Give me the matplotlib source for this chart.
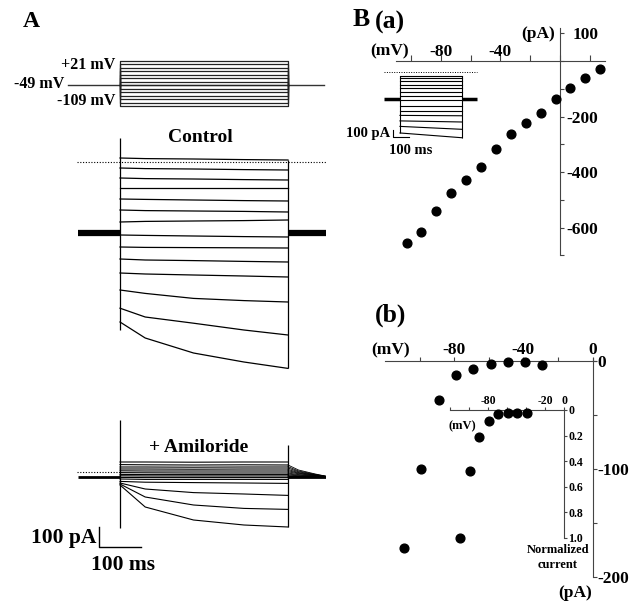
import matplotlib
matplotlib.use('Agg')
import matplotlib.pyplot as plt

plt.rcParams['font.family'] = ['Liberation Serif', 'DejaVu Serif']
plt.rcParams['font.weight'] = 'bold'

W, H = 632, 604

# ---------------- data ----------------
# A: voltage protocol (mV), pulse from 0 to 400 ms
hold_mv = -49
step_mv = [-109, -99, -89, -79, -69, -59, -49, -39, -29, -19, -9, 1, 11, 21]

# A: current traces (pA, relative to holding current) read at these times (ms)
trace_t = [0, 60, 175, 295, 400]
ctrl_traces = [
    [375, 372, 370, 367, 365],
    [325, 322, 320, 317, 315],
    [275, 272, 270, 267, 265],
    [225, 225, 225, 225, 225],
    [170, 168, 165, 162, 160],
    [115, 112, 110, 108, 105],
    [55, 58, 60, 62, 65],
    [-10, -12, -15, -18, -20],
    [-70, -72, -73, -74, -75],
    [-130, -135, -138, -142, -145],
    [-200, -205, -210, -215, -220],
    [-285, -302, -327, -338, -345],
    [-376, -420, -451, -485, -510],
    [-445, -525, -600, -645, -677],
]
amil_traces = [
    [75, 75, 74, 75, 75],
    [62, 61, 60, 61, 60],
    [50, 50, 49, 50, 50],
    [40, 40, 39, 40, 40],
    [31, 30, 30, 30, 30],
    [22, 21, 20, 20, 20],
    [13, 12, 12, 12, 12],
    [6, 5, 5, 5, 5],
    [-2, -3, -3, -3, -3],
    [-10, -12, -12, -12, -12],
    [-22, -26, -28, -30, -32],
    [-30, -60, -78, -85, -92],
    [-35, -100, -140, -157, -162],
    [-40, -150, -215, -240, -250],
]
tail_t = [400, 425, 465, 500]
amil_tail_start = [60, 52, 45, 38, 32, 26, 20, 15, 10, 6, 3, 0, -2, -4]
amil_tail_mid = [35, 30, 26, 22, 19, 16, 12, 9, 6, 4, 2, 0, -1, -2]
amil_tail_late = [15, 13, 11, 10, 9, 7, 6, 5, 3, 2, 1, 0, 0, -1]
ctrl_spike = [475, -485]
amil_spike = [285, -255]
ctrl_zero = 355
amil_zero = 25

# B(a): I-V relation
ba_mv = [-103, -93, -83, -73, -63, -53, -43, -33, -23, -13, -3, 7, 17, 27]
ba_pa = [-655, -615, -540, -475, -427, -381, -317, -263, -225, -189, -136, -98, -61, -30]
# B(a) inset traces (pA) at pulse start / end
ins_start = [320, 285, 245, 200, 155, 100, 45, -15, -85, -155, -220, -295, -370, -460]
ins_end = [320, 285, 245, 200, 155, 100, 45, -15, -85, -155, -225, -310, -410, -525]
ins_zero = 368

# B(b): amiloride-sensitive current
bb_mv = [-109, -99, -89, -79, -69, -59, -49, -39, -29]
bb_pa = [-173, -100, -36, -12.5, -7.8, -2.8, -0.7, -0.9, -3.7]
# B(b) inset: normalized current
bn_mv = [-109, -99, -89, -79, -69, -59, -49, -39]
bn_val = [1.0, 0.48, 0.21, 0.09, 0.03, 0.02, 0.02, 0.02]
bn_err = [0, 0.03, 0, 0, 0, 0, 0, 0]

AX_COL = '#444444'


def box(x0, y0, x1, y1):
    return [x0 / W, 1 - y1 / H, (x1 - x0) / W, (y1 - y0) / H]


fig = plt.figure(figsize=(W / 100, H / 100), dpi=100)


def ptext(x, y, s, size, ha='center', va='center'):
    fig.text(x / W, 1 - y / H, s, fontsize=size, ha=ha, va=va, fontweight='bold')


def blank(ax):
    ax.set_axis_off()
    ax.patch.set_visible(False)


# ---------------- panel A ----------------
# protocol
ax = fig.add_axes(box(65.4, 56.2, 325.8, 111.5))
blank(ax)
ax.set_xlim(-130, 490)
ax.set_ylim(-125, 35)
ax.plot([-125, 485], [hold_mv, hold_mv], color='#333333', lw=1)
for v in step_mv:
    ax.plot([0, 0, 400, 400], [hold_mv, v, v, hold_mv], color='#222222', lw=0.9)

# control traces
ax = fig.add_axes(box(65.4, 123, 325.8, 383))
blank(ax)
ax.set_xlim(-130, 490)
ax.set_ylim(-750, 550)
ax.plot([-103, 495], [ctrl_zero, ctrl_zero], color='k', lw=0.8, ls=(0, (1, 1.5)))
ax.plot([-100, 0], [0, 0], color='k', lw=4.5, solid_capstyle='butt')
ax.plot([400, 500], [0, 0], color='k', lw=4.5, solid_capstyle='butt')
ax.vlines(0, ctrl_spike[1], ctrl_spike[0], color='k', lw=0.9)
ends = [tr[-1] for tr in ctrl_traces]
ax.vlines(400, min(ends), max(ends), color='k', lw=0.9)
for tr in ctrl_traces:
    ax.plot(trace_t, tr, color='k', lw=0.9)

# amiloride traces
ax = fig.add_axes(box(65.4, 407, 325.8, 569))
blank(ax)
ax.set_xlim(-130, 490)
ax.set_ylim(-460, 350)
ax.plot([-103, 0], [amil_zero, amil_zero], color='k', lw=0.8, ls=(0, (1, 1.5)))
ax.plot([-100, 0], [0, 0], color='k', lw=2, solid_capstyle='butt')
ax.plot([400, 500], [0, 0], color='k', lw=2, solid_capstyle='butt')
ax.vlines(0, amil_spike[1], amil_spike[0], color='k', lw=0.9)
ends = [tr[-1] for tr in amil_traces]
ax.vlines(400, min(ends), 160, color='k', lw=0.9)
for tr, a0, a1, a2 in zip(amil_traces, amil_tail_start, amil_tail_mid, amil_tail_late):
    ax.plot(trace_t, tr, color='k', lw=0.8)
    ax.plot(tail_t, [a0, a1, a2, 0], color='k', lw=0.6)
# scale bar 100 pA / 100 ms
ax.plot([-50, -50, 50], [-250, -350, -350], color='k', lw=1)

ptext(31.7, 21.7, 'A', 17)
ptext(115, 65, '+21 mV', 11.5, ha='right')
ptext(64, 84, '-49 mV', 11.5, ha='right')
ptext(115, 101, '-109 mV', 11.5, ha='right')
ptext(200, 137, 'Control', 14)
ptext(199, 447, '+ Amiloride', 14)
ptext(96, 538, '100 pA', 15.5, ha='right')
ptext(123, 565, '100 ms', 15.5)

# ---------------- panel B(a) ----------------
ax = fig.add_axes(box(396.1, 28.3, 604.7, 255.3))
ax.patch.set_visible(False)
ax.set_xlim(-110, 30)
ax.set_ylim(-700, 118)
for s in ['left', 'bottom']:
    ax.spines[s].set_visible(False)
ax.spines['top'].set_position(('data', 0))
ax.spines['right'].set_position(('data', 0))
for s in ['top', 'right']:
    ax.spines[s].set_color(AX_COL)
ax.xaxis.tick_top()
ax.yaxis.tick_right()
ax.set_xticks(range(-100, 21, 20))
ax.set_xticklabels(['', '-80', '', '-40', '', '', ''])
ax.set_yticks(range(-700, 101, 100))
ax.set_yticklabels(['', '-600', '', '-400', '', '-200', '', '', '100'])
ax.tick_params(axis='x', direction='out', length=4.5, pad=-4, labelsize=12.5, color=AX_COL)
ax.tick_params(axis='y', direction='out', length=3, pad=24.5, labelsize=12.5, color=AX_COL)
for lab in ax.get_yticklabels():
    lab.set_ha('right')
ax.plot(ba_mv, ba_pa, 'o', color='k', ms=6.3, clip_on=False, zorder=5)

ptext(390, 51.7, '(mV)', 12.5)
ptext(555, 34.3, '(pA)', 12.5, ha='right')
ptext(361, 20, 'B', 18.5)
ptext(390, 22, '(a)', 18.5)

# B(a) inset
ax = fig.add_axes(box(383.7, 70, 477.5, 140.3))
blank(ax)
ax.set_xlim(-105, 500)
ax.set_ylim(-560, 400)
ax.plot([-103, 497], [ins_zero, ins_zero], color='k', lw=0.7, ls=(0, (1, 1.5)))
ax.plot([-103, 0], [0, 0], color='k', lw=2.5, solid_capstyle='butt')
ax.plot([400, 497], [0, 0], color='k', lw=2.5, solid_capstyle='butt')
ax.vlines(0, min(ins_start), max(ins_start), color='k', lw=0.8)
ax.vlines(400, min(ins_end), max(ins_end), color='k', lw=0.8)
for a0, a1 in zip(ins_start, ins_end):
    ax.plot([0, 400], [a0, a1], color='k', lw=0.8)
ax.plot([-45, -45, 55], [-420, -520, -520], color='k', lw=0.8)
ptext(390, 134, '100 pA', 10.5, ha='right')
ptext(411, 150, '100 ms', 10.5)

# ---------------- panel B(b) ----------------
ax = fig.add_axes(box(385, 357.8, 596, 577))
ax.patch.set_visible(False)
ax.set_xlim(-120, 2)
ax.set_ylim(-200, 3)
for s in ['left', 'bottom']:
    ax.spines[s].set_visible(False)
ax.spines['top'].set_position(('data', 0))
ax.spines['right'].set_position(('data', 0))
for s in ['top', 'right']:
    ax.spines[s].set_color(AX_COL)
ax.xaxis.tick_top()
ax.yaxis.tick_right()
ax.set_xticks(range(-100, 1, 20))
ax.set_xticklabels(['', '-80', '', '-40', '', '0'])
ax.set_yticks(range(-200, 1, 50))
ax.set_yticklabels(['-200', '', '-100', '', '0'])
ax.tick_params(axis='x', direction='out', length=3, pad=-1, labelsize=12.5, color=AX_COL)
ax.tick_params(axis='y', direction='out', length=3, pad=0.5, labelsize=12.5, color=AX_COL)
ax.plot(bb_mv, bb_pa, 'o', color='k', ms=6.3, clip_on=False, zorder=5)

ptext(390.7, 350, '(mV)', 12.5)
ptext(575, 593, '(pA)', 12.5)
ptext(390.8, 315, '(b)', 18.5)

# B(b) inset
ax = fig.add_axes(box(450, 410, 564, 537.7))
ax.patch.set_visible(False)
ax.set_xlim(-120, 0)
ax.set_ylim(1.0, 0)
for s in ['left', 'bottom']:
    ax.spines[s].set_visible(False)
for s in ['top', 'right']:
    ax.spines[s].set_color(AX_COL)
ax.xaxis.tick_top()
ax.yaxis.tick_right()
ax.set_xticks(range(-120, 1, 20))
ax.set_xticklabels(['', '', '-80', '', '', '-20', '0'])
ax.set_yticks([0, 0.2, 0.4, 0.6, 0.8, 1.0])
ax.set_yticklabels(['0', '0.2', '0.4', '0.6', '0.8', '1.0'])
ax.tick_params(axis='x', direction='out', length=2, pad=0, labelsize=8.5, color=AX_COL)
ax.tick_params(axis='y', direction='out', length=2.5, pad=0.5, labelsize=8.5, color=AX_COL)
ax.errorbar(bn_mv, bn_val, yerr=bn_err, fmt='o', color='k', ms=6.3, capsize=0,
            elinewidth=1, clip_on=False, zorder=5)

ptext(462, 426, '(mV)', 9)
ptext(558, 550, 'Normalized', 9)
ptext(558, 565, 'current', 9)

fig.savefig('out.png', dpi=100)
